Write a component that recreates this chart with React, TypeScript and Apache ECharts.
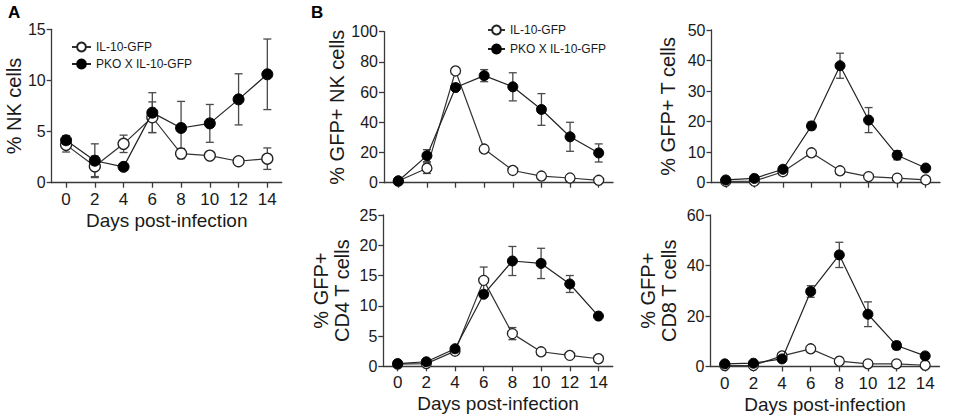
import React, { useEffect, useRef } from "react";
import * as echarts from "echarts";

const days = [0, 2, 4, 6, 8, 10, 12, 14];
const WT = "IL-10-GFP";
const KO = "PKO X IL-10-GFP";

// Panel A: % NK cells
const nkWt = [3.7, 1.6, 3.8, 6.4, 2.85, 2.65, 2.1, 2.35];
const nkWtErr = [0.7, 1.0, 0.85, 1.5, 0.5, 0, 0, 1.05];
const nkKo = [4.15, 2.15, 1.55, 6.85, 5.35, 5.8, 8.15, 10.6];
const nkKoErr = [0.45, 1.65, 0, 1.95, 2.6, 1.85, 2.5, 3.45];

// Panel B1: % GFP+ NK cells
const gfpNkWt = [1.1, 9.6, 74, 22.3, 8.1, 4.4, 3.1, 1.6];
const gfpNkWtErr = [0, 3.5, 0, 0, 0, 0, 0, 0];
const gfpNkKo = [1.1, 17.9, 63, 70.9, 63.5, 48.5, 30.4, 19.7];
const gfpNkKoErr = [0, 4, 0, 4, 9.3, 10.5, 9.6, 6];

// Panel B2: % GFP+ T cells
const gfpTWt = [0.4, 0.5, 3.6, 9.8, 3.9, 2.0, 1.5, 0.9];
const gfpTWtErr = [0, 0, 0, 0, 0, 0, 0, 0];
const gfpTKo = [0.9, 1.4, 4.4, 18.6, 38.3, 20.5, 9.0, 4.8];
const gfpTKoErr = [0, 0, 0, 1.2, 4.1, 4.1, 1.5, 0];

// Panel B3: % GFP+ CD4 T cells
const cd4Wt = [0.35, 0.45, 2.5, 14.2, 5.4, 2.4, 1.8, 1.25];
const cd4WtErr = [0, 0, 0, 2.2, 1.0, 0, 0, 0];
const cd4Ko = [0.45, 0.75, 2.9, 11.9, 17.4, 17.0, 13.6, 8.3];
const cd4KoErr = [0, 0, 0, 0, 2.4, 2.5, 1.4, 0];

// Panel B4: % GFP+ CD8 T cells
const cd8Wt = [0.4, 0.4, 4.2, 7.0, 2.1, 1.05, 1.05, 0.5];
const cd8WtErr = [0, 0, 0, 0, 0, 0, 0, 0];
const cd8Ko = [1.05, 1.3, 3.0, 29.7, 44.2, 20.7, 8.3, 4.2];
const cd8KoErr = [0, 0, 0, 2.3, 5.0, 4.9, 1.6, 0];

const yMax = [15, 100, 50, 25, 60];
const yStep = [5, 20, 10, 5, 20];
const yNames = ["% NK cells", "% GFP+ NK cells", "% GFP+ T cells", "% GFP+\nCD4 T cells", "% GFP+\nCD8 T cells"];

const panels = [
  { wt: nkWt, wtErr: nkWtErr, ko: nkKo, koErr: nkKoErr },
  { wt: gfpNkWt, wtErr: gfpNkWtErr, ko: gfpNkKo, koErr: gfpNkKoErr },
  { wt: gfpTWt, wtErr: gfpTWtErr, ko: gfpTKo, koErr: gfpTKoErr },
  { wt: cd4Wt, wtErr: cd4WtErr, ko: cd4Ko, koErr: cd4KoErr },
  { wt: cd8Wt, wtErr: cd8WtErr, ko: cd8Ko, koErr: cd8KoErr },
];

const FONT = '"Liberation Sans", Arial, sans-serif';
const INK = "#1a1a1a";
const AXIS = "#3a3a3a";

const gridPos = [
  { left: 51.7, top: 29.3, width: 230, height: 153.4 },
  { left: 384, top: 31.7, width: 229, height: 151 },
  { left: 711.5, top: 30, width: 228.5, height: 152.7 },
  { left: 383.3, top: 215, width: 229.5, height: 151.3 },
  { left: 710.5, top: 215, width: 229, height: 151.5 },
];
const showXLabels = [true, false, false, true, true];
const yNameGap = [27, 33, 33, 31, 31];

function errData(mean: number[], err: number[]) {
  const out: number[][] = [];
  days.forEach((d, i) => {
    if (err[i] > 0) out.push([d, mean[i] - err[i], mean[i] + err[i]]);
  });
  return out;
}

function errRender(params: any, api: any) {
  const x = api.value(0);
  const lo = api.coord([x, api.value(1)]);
  const hi = api.coord([x, api.value(2)]);
  const hw = 4;
  const style = { stroke: "#4a4a4a", lineWidth: 1.3 };
  return {
    type: "group",
    children: [
      { type: "line", shape: { x1: lo[0], y1: lo[1], x2: hi[0], y2: hi[1] }, style },
      { type: "line", shape: { x1: lo[0] - hw, y1: lo[1], x2: lo[0] + hw, y2: lo[1] }, style },
      { type: "line", shape: { x1: hi[0] - hw, y1: hi[1], x2: hi[0] + hw, y2: hi[1] }, style },
    ],
  };
}

export default function App() {
  const ref = useRef<HTMLDivElement>(null);
  useEffect(() => {
    if (!ref.current) return;
    const chart = echarts.init(ref.current, null, { renderer: "svg" });
    const grid = gridPos.map((g) => ({ ...g, containLabel: false }));
    const xAxis = gridPos.map((_, i) => ({
      type: "value",
      gridIndex: i,
      min: -1,
      max: 15,
      name: showXLabels[i] ? "Days post-infection" : "",
      nameLocation: "middle",
      nameGap: 28,
      nameTextStyle: { fontFamily: FONT, fontSize: 19, color: INK },
      splitLine: { show: false },
      axisLine: { show: true, onZero: false, lineStyle: { color: AXIS, width: 1.3 } },
      axisTick: { show: true, length: 5, customValues: days, lineStyle: { color: AXIS, width: 1.3 } },
      axisLabel: {
        show: showXLabels[i],
        customValues: days,
        margin: 8,
        fontFamily: FONT,
        fontSize: 17,
        color: INK,
      },
    }));
    const yAxis = gridPos.map((_, i) => ({
      type: "value",
      gridIndex: i,
      min: 0,
      max: yMax[i],
      interval: yStep[i],
      name: yNames[i],
      nameLocation: "middle",
      nameGap: yNameGap[i],
      nameTextStyle: { fontFamily: FONT, fontSize: 20, color: INK, lineHeight: 21 },
      splitLine: { show: false },
      axisLine: { show: true, onZero: false, lineStyle: { color: AXIS, width: 1.3 } },
      axisTick: { show: true, length: 5, lineStyle: { color: AXIS, width: 1.3 } },
      axisLabel: { margin: 6, fontFamily: FONT, fontSize: 16, color: INK },
    }));
    const series: any[] = [];
    panels.forEach((p, i) => {
      const sym = i === 0 ? 11 : 10;
      series.push({
        type: "custom",
        xAxisIndex: i,
        yAxisIndex: i,
        renderItem: errRender,
        data: errData(p.wt, p.wtErr),
        z: 1,
        silent: true,
      });
      series.push({
        type: "custom",
        xAxisIndex: i,
        yAxisIndex: i,
        renderItem: errRender,
        data: errData(p.ko, p.koErr),
        z: 1,
        silent: true,
      });
      series.push({
        name: WT,
        type: "line",
        xAxisIndex: i,
        yAxisIndex: i,
        data: days.map((d, k) => [d, p.wt[k]]),
        symbol: "circle",
        symbolSize: sym,
        lineStyle: { color: "#333", width: 1.2 },
        itemStyle: { color: "#ffffff", borderColor: "#222", borderWidth: 1.3 },
        z: 3,
      });
      series.push({
        name: KO,
        type: "line",
        xAxisIndex: i,
        yAxisIndex: i,
        data: days.map((d, k) => [d, p.ko[k]]),
        symbol: "circle",
        symbolSize: sym,
        lineStyle: { color: "#222", width: 1.2 },
        itemStyle: { color: "#000000", borderColor: "#000", borderWidth: 1 },
        z: 4,
      });
    });
    const legendBase = {
      orient: "vertical",
      selectedMode: false,
      itemHeight: 11,
      itemGap: 5,
      textStyle: { fontFamily: FONT, fontSize: 12, color: INK },
      data: [WT, KO],
    };
    chart.setOption({
      animation: false,
      backgroundColor: "#ffffff",
      grid,
      xAxis,
      yAxis,
      series,
      legend: [
        { ...legendBase, left: 66, top: 36, itemWidth: 19 },
        { ...legendBase, left: 482, top: 19, itemWidth: 17, itemGap: 7 },
      ],
      graphic: [
        { type: "text", left: 8, top: 4, style: { text: "A", font: `bold 17px ${FONT}`, fill: "#000" } },
        { type: "text", left: 311, top: 4, style: { text: "B", font: `bold 17px ${FONT}`, fill: "#000" } },
      ],
    });
    return () => chart.dispose();
  }, []);
  return (
    <div
      ref={ref}
      style={{ position: "absolute", left: 0, top: 0, width: 957, height: 419, background: "#fff" }}
    />
  );
}
